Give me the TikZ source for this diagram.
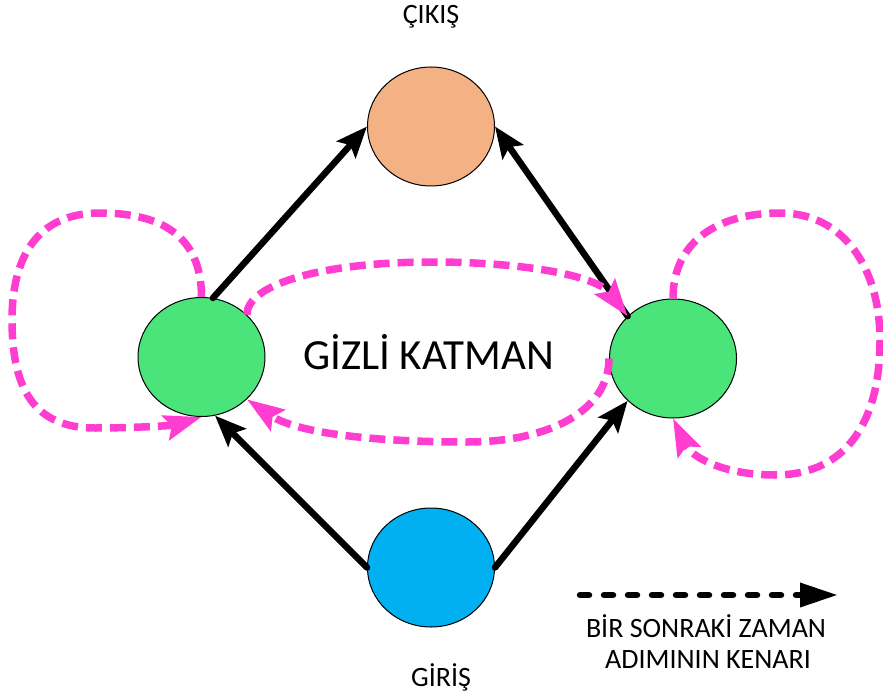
\documentclass[tikz,border=0pt]{standalone}
\usepackage{fontspec}
\setmainfont{Carlito}
\usetikzlibrary{arrows.meta,shapes.geometric}
\definecolor{outfill}{RGB}{244,177,131}
\definecolor{hidfill}{RGB}{74,228,122}
\definecolor{infill}{RGB}{0,176,240}
\definecolor{recur}{RGB}{255,61,209}
\begin{document}
\begin{tikzpicture}[x=1pt,y=-1pt,
  neuron/.style={ellipse,draw=black,line width=1pt,inner sep=0pt,
    minimum width=127pt,minimum height=119pt},
  feed/.style={line width=6.5pt,line cap=round,
    -{Stealth[length=31pt,width=25pt,inset=6pt]}},
  loopedge/.style={recur,line width=7.5pt,dash pattern=on 16pt off 8pt,
    -{Stealth[length=37pt,width=25pt,inset=6pt]}},
  lbl/.style={anchor=base,inner sep=0pt,text=black,
    font=\fontsize{28}{31}\selectfont}]
  \useasboundingbox (0,0) rectangle (883,695);

  % neurons
  \node[neuron,fill=outfill] (out) at (431,126.5) {};
  \node[neuron,fill=hidfill] (hl) at (201.5,357) {};
  \node[neuron,fill=hidfill] (hr) at (673,358.5) {};
  \node[neuron,fill=infill] (in) at (431,567.5) {};

  % labels
  \node[lbl] (tout) at (431,24) {ÇIKIŞ};
  \node[lbl] (tin) at (441,686.5) {GİRİŞ};
  \node[lbl,font=\fontsize{43}{47}\selectfont] (thid) at (428.5,369) {GİZLİ KATMAN};
  \node[lbl] (tleg1) at (706,637) {BİR SONRAKİ ZAMAN};
  \node[lbl] (tleg2) at (708,668) {ADIMININ KENARI};

  % feed-forward connections
  \draw[feed] (hl.79) -- (out.west);
  \draw[feed] (hr.137) -- (out.east);
  \draw[feed] (in.west) -- (hl.-77);
  \draw[feed] (in.east) -- (hr.-137);

  % recurrent connections to the next time step
  \draw[loopedge] (hl.north) .. controls (201.5,235) and (160,213) .. (100,213)
    .. controls (35,213) and (12,260) .. (12,320)
    .. controls (12,390) and (35,428) .. (95,428)
    .. controls (140,428) and (175,425) .. (hl.south);
  \draw[loopedge] (hr.north) .. controls (673,240) and (720,213) .. (780,213)
    .. controls (845,213) and (880,270) .. (880,340)
    .. controls (880,430) and (840,475) .. (775,475)
    .. controls (725,475) and (692,458) .. (hr.south);
  \draw[loopedge] (hl.43) .. controls (247,285) and (320,262) .. (433,262)
    .. controls (520,262) and (596,275) .. (hr.137);
  \draw[loopedge] (hr.west) .. controls (609,410) and (550,442) .. (467,442)
    .. controls (380,442) and (298,434) .. (hl.-43);

  % legend
  \coordinate (legA) at (580,595);
  \coordinate (legB) at (838,595);
  \draw[line width=6.5pt,line cap=round,dash pattern=on 9pt off 15pt,
    -{Triangle[length=38pt,width=23pt]}] (legA) -- (legB);
\end{tikzpicture}
\end{document}
